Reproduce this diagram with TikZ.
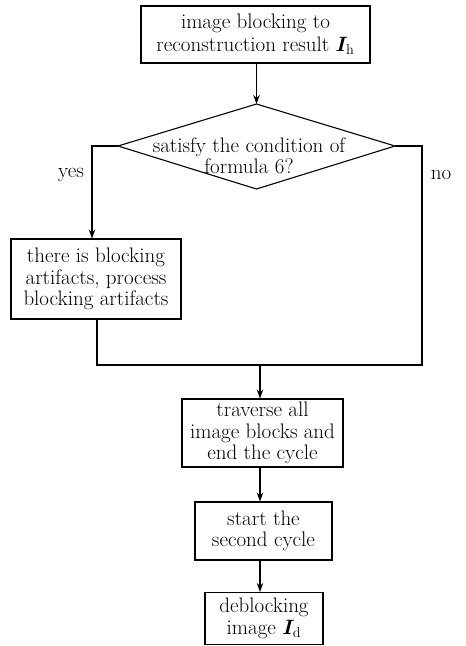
\documentclass[tikz,border=0pt]{standalone}
\usepackage{amsmath}
\usepackage{bm}
\usetikzlibrary{arrows.meta}
\begin{document}
\begin{tikzpicture}[x=1pt,y=-1pt,
  every node/.style={font=\fontsize{21}{21.5}\selectfont, inner sep=0pt},
  box/.style={draw, line width=1.1pt, align=center},
  ln/.style={line width=1.1pt},
  arr/.style={line width=1.1pt, -{Stealth[length=9pt,width=6.5pt]}}]
\useasboundingbox (0,0) rectangle (466,646);
% top box
\node[box, minimum width=229pt, minimum height=57pt] (b1) at (255.5,34.5) {image blocking to\\[1pt]reconstruction result $\bm{I}_{\mathrm{h}}$};
% diamond
\coordinate (dtop) at (256.5,104);
\coordinate (dleft) at (118,146);
\coordinate (dright) at (395,146);
\coordinate (dbot) at (256.5,189);
\draw[ln, line join=miter] (dtop) -- (dright) -- (dbot) -- (dleft) -- cycle;
\node[align=center] (dtext) at (249,156) {satisfy the condition of\\formula 6?};
\draw[arr] (b1.south -| dtop) -- (dtop);
% yes / no labels
\node (yes) at (71,175) {yes};
\node (no) at (441,175) {no};
% left box
\node[box, minimum width=170pt, minimum height=80pt] (b2) at (96,279) {there is blocking\\artifacts, process\\blocking artifacts};
\coordinate (lc) at (92,146);
\draw[arr] (dleft) -- (lc) -- (lc |- b2.north);
% right branch
\coordinate (rc) at (422,146);
\coordinate (rb) at (422,365);
\coordinate (lb) at (97,365);
\coordinate (jn) at (260,365);
\draw[ln] (dright) -- (rc) -- (rb) -- (lb) -- (lb |- b2.south);
% lower boxes
\node[box, minimum width=161pt, minimum height=68pt] (b3) at (262.5,433) {traverse all\\image blocks and\\end the cycle};
\node[box, minimum width=137pt, minimum height=58pt] (b4) at (263.5,531) {start the\\second cycle};
\node[box, minimum width=118pt, minimum height=52pt] (b5) at (264,618.5) {deblocking\\image $\bm{I}_{\mathrm{d}}$};
\draw[arr] (jn) -- (jn |- b3.north);
\draw[arr] (b3.south -| jn) -- (jn |- b4.north);
\draw[arr] (b4.south -| jn) -- (jn |- b5.north);
\end{tikzpicture}
\end{document}
